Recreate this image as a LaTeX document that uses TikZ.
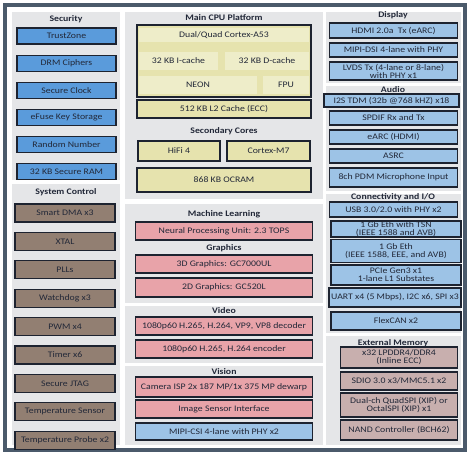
\documentclass[tikz,border=0pt]{standalone}
\usepackage{fontspec}
\setmainfont{Carlito}[FakeStretch=1.15]
\usepackage{tikz}
\usetikzlibrary{positioning}
\usepackage{xcolor}
\definecolor{frame}{HTML}{4B5A6B}
\definecolor{panelgray}{HTML}{E5E6E8}
\definecolor{edge}{HTML}{1D2330}
\definecolor{ink}{HTML}{222838}
\definecolor{secblue}{HTML}{5A9BDB}
\definecolor{ioblue}{HTML}{9DC3E6}
\definecolor{taupe}{HTML}{927F72}
\definecolor{cpuyel}{HTML}{E6E3AE}
\definecolor{cpucell}{HTML}{EEEDC9}
\definecolor{rose}{HTML}{E8A3A9}
\definecolor{mauve}{HTML}{C8AFAE}

\begin{document}
\begin{tikzpicture}[x=1pt, y=-1pt, font=\fontsize{8.5}{8}\selectfont,
    panel/.style={fill=panelgray, draw=none},
    ttl/.style={font=\fontsize{8.5}{8}\selectfont\bfseries, text=ink, inner sep=0pt},
    blk/.style={draw=edge, line width=1.1pt, inner sep=0pt, align=center, text=ink},
    secbox/.style={blk, fill=secblue, minimum width=99pt, minimum height=16pt},
    ctlbox/.style={blk, fill=taupe, minimum width=100pt, minimum height=18pt},
    cpubox/.style={blk, fill=cpuyel, minimum width=174pt},
    cell/.style={fill=cpucell, inner sep=0pt, align=center, text=ink},
    mlbox/.style={blk, fill=rose, minimum width=177pt, minimum height=18pt},
    iobox/.style={blk, fill=ioblue, minimum width=128pt},
    membox/.style={blk, fill=mauve, minimum width=117pt}]
  \useasboundingbox (0,0) rectangle (474,456);
  \fill[white] (0,0) rectangle (474,456);
  \draw[frame, line width=3.5pt] (5,5) rectangle (465,450);

  % column panels
  \fill[panel] (12,12) rectangle (120,180);
  \fill[panel] (12,184) rectangle (120,445);
  \fill[panel] (125,12) rectangle (323,199);
  \fill[panel] (125,204) rectangle (323,303);
  \fill[panel] (125,306) rectangle (323,363);
  \fill[panel] (125,366) rectangle (323,445);
  \fill[panel] (326,12) rectangle (461,83);
  \fill[panel] (326,86) rectangle (461,191);
  \fill[panel] (326,194) rectangle (461,333);
  \fill[panel] (326,336) rectangle (461,445);

  % security
  \node[ttl] (sectitle) at (66,19) {Security};
  \node[secbox] (tz) at (66.5,36) {TrustZone};
  \node[secbox, below=10pt of tz] (drm) {DRM Ciphers};
  \node[secbox, below=10pt of drm] (sclk) {Secure Clock};
  \node[secbox, below=10pt of sclk] (efuse) {eFuse Key Storage};
  \node[secbox, below=10pt of efuse] (rng) {Random Number};
  \node[secbox, below=10pt of rng] (sram) {32 KB Secure RAM};

  % system control
  \node[ttl] (ctltitle) at (66,192) {System Control};
  \node[ctlbox] (sdma) at (65,213) {Smart DMA x3};
  \node[ctlbox, below=9.3pt of sdma] (xtal) {XTAL};
  \node[ctlbox, below=9.3pt of xtal] (pll) {PLLs};
  \node[ctlbox, below=9.3pt of pll] (wdog) {Watchdog x3};
  \node[ctlbox, below=9.3pt of wdog] (pwm) {PWM x4};
  \node[ctlbox, below=9.3pt of pwm] (timer) {Timer x6};
  \node[ctlbox, below=9.3pt of timer] (jtag) {Secure JTAG};
  \node[ctlbox, below=9.3pt of jtag] (tsens) {Temperature Sensor};
  \node[ctlbox, below=9.3pt of tsens] (tprobe) {Temperature Probe x2};

  % main cpu platform
  \node[ttl] (cputitle) at (224,18) {Main CPU Platform};
  \node[cpubox, minimum height=72pt] (cpu) at (224,61) {};
  \node[cell, minimum width=170pt, minimum height=14pt] (a53) at (224,35) {Dual/Quad Cortex-A53};
  \node[cell, minimum width=79pt, minimum height=18pt] (icache) at (178.5,61) {32 KB I-cache};
  \node[cell, minimum width=84pt, minimum height=18pt] (dcache) at (267,61) {32 KB D-cache};
  \node[cell, minimum width=118pt, minimum height=18pt] (neon) at (198,85) {NEON};
  \node[cell, minimum width=46pt, minimum height=18pt] (fpu) at (286,85) {FPU};
  \node[cpubox, minimum height=18pt] (l2) at (224,109) {512 KB L2 Cache (ECC)};

  % secondary cores
  \node[ttl] (sectitle2) at (224,131) {Secondary Cores};
  \node[cpubox, minimum width=82pt, minimum height=20pt] (hifi) at (179,151) {HiFi 4};
  \node[cpubox, minimum width=83pt, minimum height=20pt] (m7) at (268.5,151) {Cortex-M7};
  \node[cpubox, minimum height=24pt] (ocram) at (224,180) {868 KB OCRAM};

  % machine learning, graphics
  \node[ttl] (mltitle) at (224,214) {Machine Learning};
  \node[mlbox] (npu) at (224,231) {Neural Processing Unit: 2.3 TOPS};
  \node[ttl] (gfxtitle) at (224,248) {Graphics};
  \node[mlbox] (gpu3d) at (224,264) {3D Graphics: GC7000UL};
  \node[mlbox, minimum height=19pt] (gpu2d) at (224,287.5) {2D Graphics: GC520L};

  % video
  \node[ttl] (vidtitle) at (224,311) {Video};
  \node[mlbox] (vdec) at (224,326) {1080p60 H.265, H.264, VP9, VP8 decoder};
  \node[mlbox] (venc) at (224,349) {1080p60 H.265, H.264 encoder};

  % vision
  \node[ttl] (vistitle) at (224,372) {Vision};
  \node[mlbox, minimum height=20pt] (isp) at (224,387) {Camera ISP 2x 187 MP/1x 375 MP dewarp};
  \node[mlbox] (isi) at (224,409) {Image Sensor Interface};
  \node[mlbox, fill=ioblue, minimum height=17pt] (csi) at (224,431.5) {MIPI-CSI 4-lane with PHY x2};

  % display
  \node[ttl] (distitle) at (393,15) {Display};
  \node[iobox, minimum height=15pt] (hdmi) at (393.5,30.5) {HDMI 2.0a~~Tx (eARC)};
  \node[iobox, minimum height=14pt] (dsi) at (393.5,50) {MIPI-DSI 4-lane with PHY};
  \node[iobox, minimum height=18pt] (lvds) at (393.5,71) {LVDS Tx (4-lane or 8-lane)\\with PHY x1};

  % audio
  \node[ttl] (audtitle) at (393,90) {Audio};
  \node[iobox, minimum width=135pt, minimum height=13pt] (i2s) at (391.5,100.5) {I2S TDM (32b @768 kHZ) x18};
  \node[iobox, minimum height=14pt] (spdif) at (393.5,118) {SPDIF Rx and Tx};
  \node[iobox, minimum height=14pt] (earc) at (393.5,137) {eARC (HDMI)};
  \node[iobox, minimum height=14pt] (asrc) at (393.5,156) {ASRC};
  \node[iobox, minimum height=19pt] (pdm) at (393.5,177.5) {8ch PDM Microphone Input};

  % connectivity and i/o
  \node[ttl] (contitle) at (393,197) {Connectivity and I/O};
  \node[iobox, minimum height=15pt] (usb) at (393.5,209.5) {USB 3.0/2.0 with PHY x2};
  \node[iobox, minimum width=130pt, minimum height=16pt] (tsn) at (396,229) {1 Gb Eth with TSN\\(IEEE 1588 and AVB)};
  \node[iobox, minimum width=130pt, minimum height=23pt] (eth) at (396,251) {1 Gb Eth\\(IEEE 1588, EEE, and AVB)};
  \node[iobox, minimum width=130pt, minimum height=20pt] (pcie) at (396,275) {PCIe Gen3 x1\\1-lane L1 Substates};
  \node[iobox, minimum width=132pt, minimum height=19pt] (uart) at (395,297.5) {UART x4 (5 Mbps), I2C x6, SPI x3};
  \node[iobox, minimum width=130pt, minimum height=18pt] (can) at (396,321) {FlexCAN x2};

  % external memory
  \node[ttl] (memtitle) at (393,343) {External Memory};
  \node[membox, minimum height=21pt] (ddr) at (399,357.5) {x32 LPDDR4/DDR4\\(Inline ECC)};
  \node[membox, minimum height=18pt] (sdio) at (399,381) {SDIO 3.0 x3/MMC5.1 x2};
  \node[membox, minimum height=24pt] (qspi) at (399,405) {Dual-ch QuadSPI (XIP) or\\OctalSPI (XIP) x1};
  \node[membox, minimum height=20pt] (nand) at (399,430) {NAND Controller (BCH62)};
\end{tikzpicture}
\end{document}
